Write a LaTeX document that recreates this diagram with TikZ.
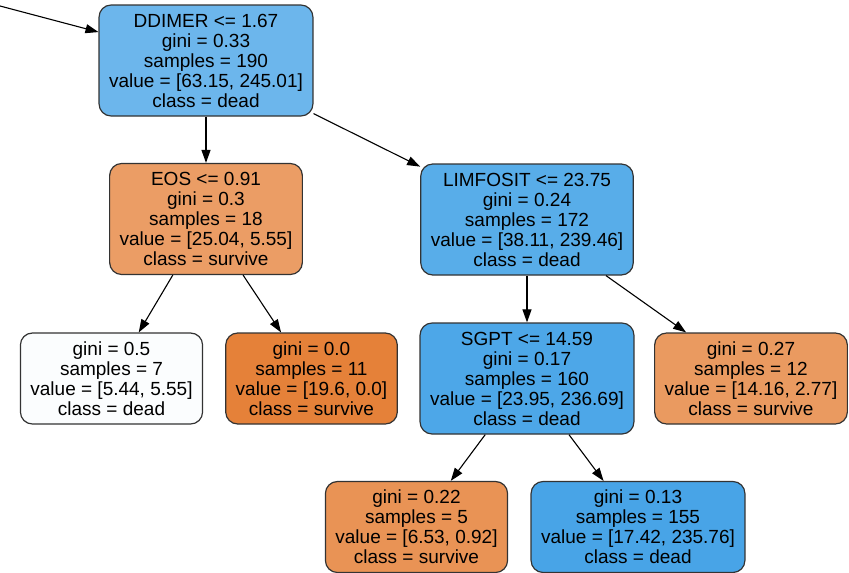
\documentclass[tikz,border=0pt]{standalone}
\usepackage{fontspec}
\setmainfont{Liberation Sans}
\usetikzlibrary{arrows.meta}

\definecolor{deadA}{RGB}{108,182,236}
\definecolor{deadB}{RGB}{88,173,233}
\definecolor{deadC}{RGB}{77,167,232}
\definecolor{deadD}{RGB}{72,164,231}
\definecolor{deadE}{RGB}{251,253,254}
\definecolor{survA}{RGB}{235,157,101}
\definecolor{survB}{RGB}{229,129,57}
\definecolor{survC}{RGB}{234,154,96}
\definecolor{survD}{RGB}{233,147,85}

\begin{document}
\begin{tikzpicture}[x=1pt,y=-1pt,
  treenode/.style={draw=black!80,line width=1.2pt,rounded corners=12pt,
    align=center,inner xsep=10pt,inner ysep=0pt,
    font=\fontsize{19}{20}\selectfont},
  splitnode/.style={treenode,minimum height=111pt},
  leafnode/.style={treenode,minimum height=91pt},
  treeedge/.style={-{Triangle[length=13pt,width=9pt]},line width=1.1pt}]
\useasboundingbox (0,0) rectangle (849,573);

% split nodes
\node[splitnode,fill=deadA] (ddimer)   at (206,60.5)  {DDIMER <= 1.67\\gini = 0.33\\samples = 190\\value = [63.15, 245.01]\\class = dead};
\node[splitnode,fill=survA] (eos)      at (206,219)   {EOS <= 0.91\\gini = 0.3\\samples = 18\\value = [25.04, 5.55]\\class = survive};
\node[splitnode,fill=deadB] (limfosit) at (527,219.5) {LIMFOSIT <= 23.75\\gini = 0.24\\samples = 172\\value = [38.11, 239.46]\\class = dead};
\node[splitnode,fill=deadC] (sgpt)     at (527,378.5) {SGPT <= 14.59\\gini = 0.17\\samples = 160\\value = [23.95, 236.69]\\class = dead};

% leaves
\node[leafnode,fill=deadE] (leafa) at (111.5,378.5) {gini = 0.5\\samples = 7\\value = [5.44, 5.55]\\class = dead};
\node[leafnode,fill=survB] (leafb) at (311.5,378.5) {gini = 0.0\\samples = 11\\value = [19.6, 0.0]\\class = survive};
\node[leafnode,fill=survC] (leafc) at (751,378.5)   {gini = 0.27\\samples = 12\\value = [14.16, 2.77]\\class = survive};
\node[leafnode,fill=survD] (leafd) at (416.5,527)   {gini = 0.22\\samples = 5\\value = [6.53, 0.92]\\class = survive};
\node[leafnode,fill=deadD] (leafe) at (638,527)     {gini = 0.13\\samples = 155\\value = [17.42, 235.76]\\class = dead};

\coordinate (start) at (0,6);

\draw[treeedge] (start) -- (ddimer);
\draw[treeedge] (ddimer) -- (eos);
\draw[treeedge] (ddimer) -- (limfosit);
\draw[treeedge] (eos) -- (leafa);
\draw[treeedge] (eos) -- (leafb);
\draw[treeedge] (limfosit) -- (sgpt);
\draw[treeedge] (limfosit) -- (leafc);
\draw[treeedge] (sgpt) -- (leafd);
\draw[treeedge] (sgpt) -- (leafe);
\end{tikzpicture}
\end{document}
